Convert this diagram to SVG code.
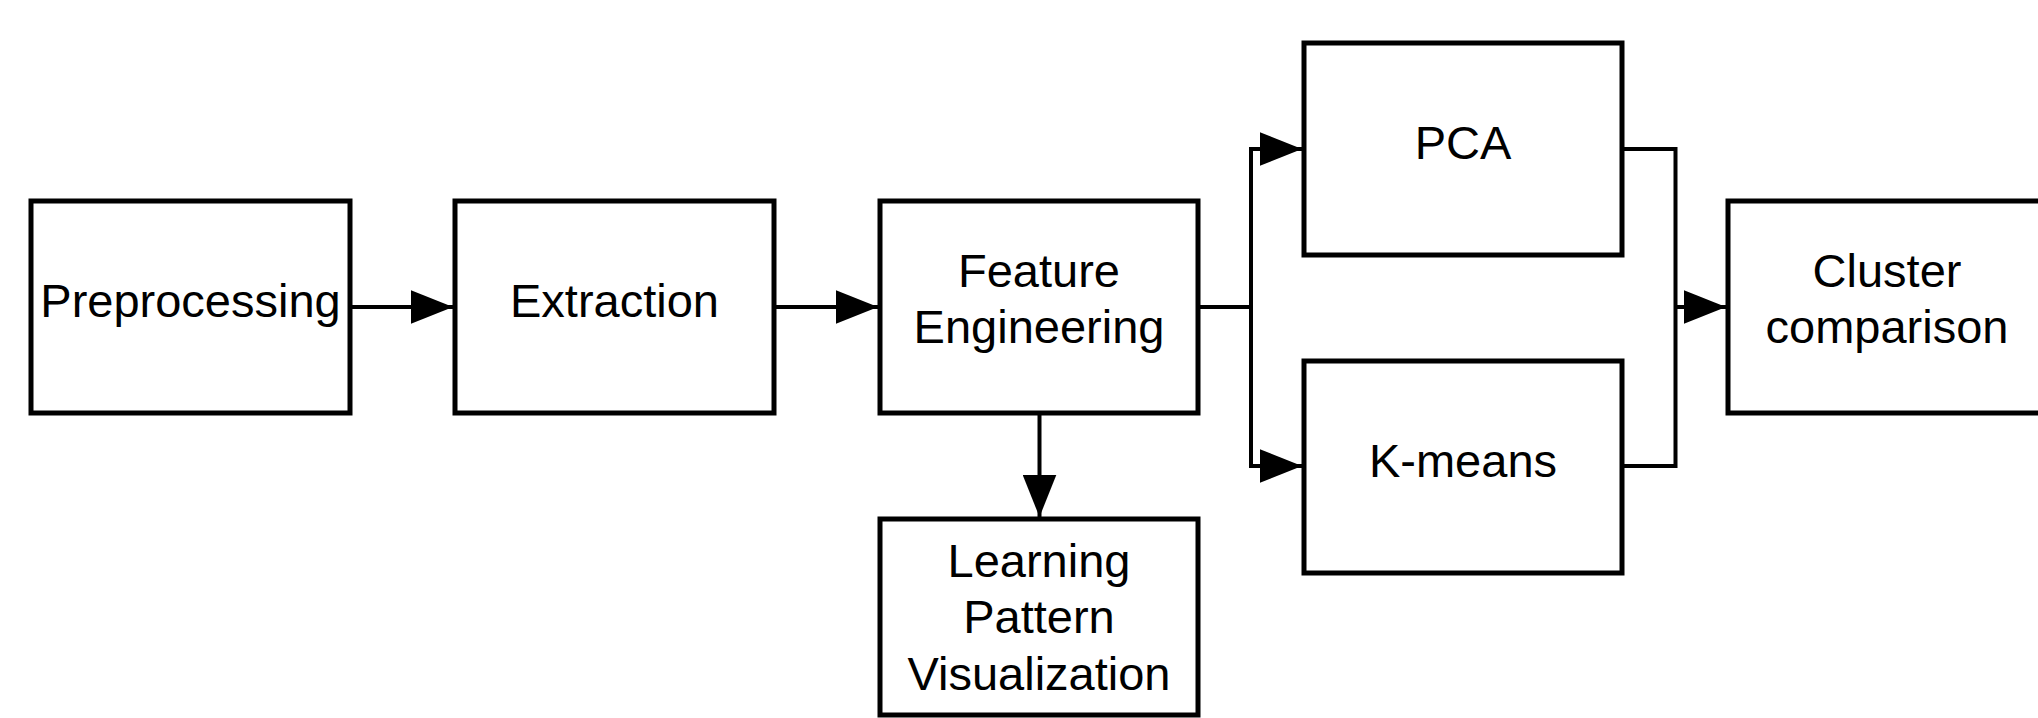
<svg xmlns="http://www.w3.org/2000/svg" width="2038" height="718" viewBox="0 0 2038 718">
<style>
.box{fill:#fff;stroke:#000;stroke-width:5}
.lbl{font-family:"Liberation Sans",Arial,sans-serif;font-size:47px;fill:#000;text-anchor:middle}
.con{fill:none;stroke:#000;stroke-width:4;stroke-linejoin:miter}
</style>
<defs>
<marker id="arr" markerUnits="userSpaceOnUse" markerWidth="42" markerHeight="34" viewBox="0 0 40 32" refX="40" refY="16" orient="auto">
<path d="M0,0 L40,16 L0,32 Z" fill="#000"/>
</marker>
</defs>
<rect x="0" y="0" width="2038" height="718" fill="#fff"/>
<g id="connectors">
<path class="con" d="M352,307 L453,307" marker-end="url(#arr)"/>
<path class="con" d="M776,307 L878,307" marker-end="url(#arr)"/>
<path class="con" d="M1200,307 L1251,307"/>
<path class="con" d="M1251,307 L1251,149 L1302,149" marker-end="url(#arr)"/>
<path class="con" d="M1251,307 L1251,466 L1302,466" marker-end="url(#arr)"/>
<path class="con" d="M1039.5,415 L1039.5,517" marker-end="url(#arr)"/>
<path class="con" d="M1624,149 L1675.5,149 L1675.5,466 L1624,466"/>
<path class="con" d="M1675.5,307 L1726,307" marker-end="url(#arr)"/>
</g>
<g id="preprocessing">
<rect class="box" x="31" y="201" width="319" height="212"/>
<text class="lbl" x="190.5" y="317">Preprocessing</text>
</g>
<g id="extraction">
<rect class="box" x="455" y="201" width="319" height="212"/>
<text class="lbl" x="614.5" y="317">Extraction</text>
</g>
<g id="feature-engineering">
<rect class="box" x="880" y="201" width="318" height="212"/>
<text class="lbl" x="1039" y="287">Feature</text>
<text class="lbl" x="1039" y="343">Engineering</text>
</g>
<g id="learning-pattern-visualization">
<rect class="box" x="880" y="519" width="318" height="196"/>
<text class="lbl" x="1039" y="577">Learning</text>
<text class="lbl" x="1039" y="633">Pattern</text>
<text class="lbl" x="1039" y="690">Visualization</text>
</g>
<g id="pca">
<rect class="box" x="1304" y="43" width="318" height="212"/>
<text class="lbl" x="1463" y="159">PCA</text>
</g>
<g id="k-means">
<rect class="box" x="1304" y="361" width="318" height="212"/>
<text class="lbl" x="1463" y="477">K-means</text>
</g>
<g id="cluster-comparison">
<rect class="box" x="1728" y="201" width="318" height="212"/>
<text class="lbl" x="1887" y="287">Cluster</text>
<text class="lbl" x="1887" y="343">comparison</text>
</g>
</svg>
